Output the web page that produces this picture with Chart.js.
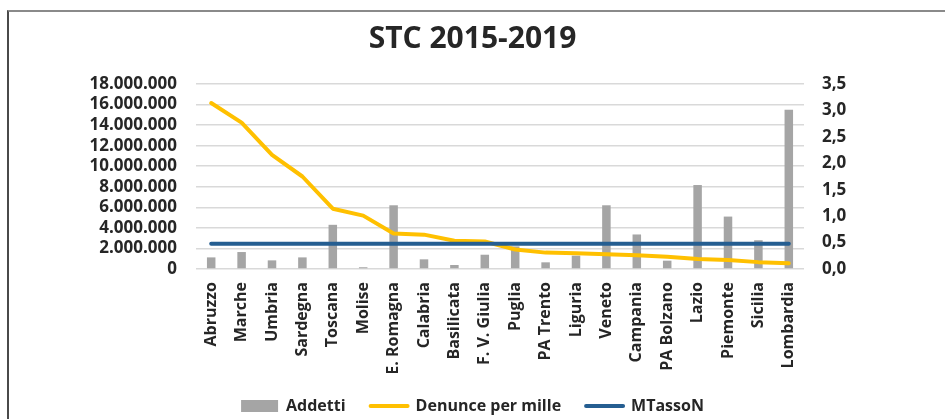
<!DOCTYPE html>
<html>
<head>
<meta charset="utf-8">
<script src="https://cdn.jsdelivr.net/npm/chart.js@4/dist/chart.umd.min.js"></script>
<style>
  html, body { margin: 0; padding: 0; background: #fff; overflow: hidden; }
  #wrap { position: absolute; left: 0; top: 0; width: 945px; height: 424px; }
  #frame { position: absolute; left: 7px; top: 10px; width: 960px; height: 430px;
           border-left: 2px solid #4a4a4a; border-top: 2px solid #8a8a8a; }
</style>
</head>
<body>
<div id="frame"></div>
<div id="wrap"><canvas id="chart"></canvas></div>
<script>
const regioni = ["Abruzzo", "Marche", "Umbria", "Sardegna", "Toscana", "Molise", "E. Romagna",
  "Calabria", "Basilicata", "F. V. Giulia", "Puglia", "PA Trento", "Liguria", "Veneto",
  "Campania", "PA Bolzano", "Lazio", "Piemonte", "Sicilia", "Lombardia"];
const addetti = [1130000, 1650000, 840000, 1130000, 4300000, 170000, 6200000,
  940000, 390000, 1390000, 2200000, 650000, 1300000, 6200000,
  3360000, 810000, 8170000, 5100000, 2800000, 15500000];
const denunce = [3.14, 2.77, 2.16, 1.75, 1.14, 1.01, 0.67,
  0.65, 0.535, 0.52, 0.37, 0.31, 0.30, 0.28,
  0.26, 0.23, 0.19, 0.17, 0.13, 0.11];
const mtasso = [0.48, 0.48, 0.48, 0.48, 0.48, 0.48, 0.48,
  0.48, 0.48, 0.48, 0.48, 0.48, 0.48, 0.48,
  0.48, 0.48, 0.48, 0.48, 0.48, 0.48];

const FONT = "'Open Sans'";
const TXT = "#262626";

function fmtMigliaia(v) {
  return String(Math.round(v)).replace(/\B(?=(\d{3})+(?!\d))/g, ".");
}

const ctx = document.getElementById("chart").getContext("2d");
new Chart(ctx, {
  data: {
    labels: regioni,
    datasets: [
      { type: "bar", label: "Addetti", data: addetti, yAxisID: "y",
        backgroundColor: "#A5A5A5", barPercentage: 0.28, categoryPercentage: 1, order: 3 },
      { type: "line", label: "Denunce per mille", data: denunce, yAxisID: "y1",
        borderColor: "#FFC000", borderWidth: 4, pointRadius: 0, tension: 0,
        borderCapStyle: "round", borderJoinStyle: "round", order: 2 },
      { type: "line", label: "MTassoN", data: mtasso, yAxisID: "y1",
        borderColor: "#255E91", borderWidth: 4, pointRadius: 0,
        borderCapStyle: "round", order: 1 }
    ]
  },
  options: {
    responsive: true,
    maintainAspectRatio: false,
    animation: false,
    layout: { padding: 0 },
    plugins: {
      title: {
        display: true, text: "STC 2015-2019", color: TXT,
        font: { family: FONT, size: 30, weight: "bold" },
        padding: { top: 21, bottom: 27 }
      },
      legend: {
        position: "bottom",
        labels: {
          usePointStyle: true, pointStyleWidth: 37, boxHeight: 12, padding: 25,
          color: TXT, font: { family: FONT, size: 16, weight: "bold" },
          generateLabels: chart => chart.data.datasets.map((ds, i) => ({
            text: ds.label,
            datasetIndex: i,
            fillStyle: ds.type === "bar" ? ds.backgroundColor : ds.borderColor,
            strokeStyle: ds.type === "bar" ? ds.backgroundColor : ds.borderColor,
            lineWidth: ds.type === "bar" ? 0 : 4,
            lineCap: "round",
            pointStyle: ds.type === "bar" ? "rect" : "line",
            fontColor: TXT,
            hidden: false
          }))
        }
      },
      tooltip: { enabled: false }
    },
    scales: {
      x: {
        grid: { display: false, drawTicks: false },
        border: { display: false },
        ticks: { color: TXT, font: { family: FONT, size: 16, weight: "bold" },
          maxRotation: 90, minRotation: 90, padding: 13, autoSkip: false },
        afterFit: s => { s.height = 104; }
      },
      y: {
        position: "left", min: 0, max: 18000000,
        grid: { color: "#D9D9D9", lineWidth: 1.5, drawTicks: false },
        border: { display: false },
        ticks: { stepSize: 2000000, padding: 19, color: TXT, autoSkip: false,
          font: { family: FONT, size: 17, weight: "bold" },
          callback: v => fmtMigliaia(v) },
        afterFit: s => { s.width = 196; }
      },
      y1: {
        position: "right", min: 0, max: 3.5,
        grid: { display: false, drawTicks: false },
        border: { display: false },
        ticks: { stepSize: 0.5, padding: 18, color: TXT, autoSkip: false,
          font: { family: FONT, size: 17, weight: "bold" },
          callback: v => v.toFixed(1).replace(".", ",") },
        afterFit: s => { s.width = 141; }
      }
    }
  }
});
</script>
</body>
</html>
